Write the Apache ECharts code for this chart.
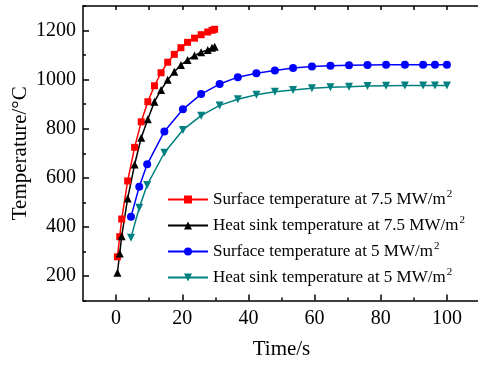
<!DOCTYPE html>
<html>
<head>
<meta charset="utf-8">
<script src="https://cdn.jsdelivr.net/npm/echarts@6/dist/echarts.min.js"></script>
<style>
  html, body { margin: 0; padding: 0; background: #fff; }
  #chart { width: 478px; height: 365px; }
</style>
</head>
<body>
<div id="chart"></div>
<script>
// data
const timeFast = [0.4, 1.1, 1.7, 3.5, 5.6, 7.6, 9.6, 11.6, 13.6, 15.6, 17.6, 19.6, 21.6, 23.7, 25.7, 27.7, 29.0, 29.8];
const surface75 = [278, 360, 432, 587, 724, 828, 910, 975, 1028, 1071, 1103, 1130, 1152, 1169, 1183, 1194, 1201, 1205];
const sink75 = [213, 292, 362, 516, 654, 763, 839, 910, 958, 999, 1032, 1060, 1080, 1098, 1112, 1121, 1130, 1134];

const timeSlow = [4.5, 7.0, 9.4, 14.6, 20.2, 25.7, 31.3, 36.8, 42.4, 48.0, 53.5, 59.2, 64.8, 70.4, 76.0, 81.6, 87.3, 92.8, 96.4, 100];
const surface5 = [441, 564, 655, 789, 879, 941, 982, 1010, 1026, 1037, 1047, 1053, 1057, 1059, 1060, 1061, 1061, 1061, 1061, 1061];
const sink5 = [356, 478, 571, 702, 795, 853, 895, 920, 938, 951, 958, 965, 969, 971, 974, 975, 976, 976, 976, 976];

const seriesNames = [
  "Surface temperature at 7.5 MW/m²",
  "Heat sink temperature at 7.5 MW/m²",
  "Surface temperature at 5 MW/m²",
  "Heat sink temperature at 5 MW/m²",
];

const xTicks = [0, 20, 40, 60, 80, 100];
const xMinorTicks = [10, 30, 50, 70, 90];
const yTicks = [200, 400, 600, 800, 1000, 1200];
const yMinorTicks = [100, 300, 500, 700, 900, 1100, 1300];

const font = "Liberation Serif";
const pairs = (xs, ys) => xs.map((x, i) => [x, ys[i]]);

const chart = echarts.init(document.getElementById("chart"));

// shared axis pieces
const xBase = { type: "value", min: -10, max: 110, splitLine: { show: false }, gridIndex: 0 };
const yBase = { type: "value", min: 100, max: 1300, splitLine: { show: false }, gridIndex: 0 };
const blackLine = { lineStyle: { color: "#000", width: 1.5 } };

const options = {
  animation: false,
  backgroundColor: "#fff",
  // plot box runs a little past the right edge of the picture
  grid: { left: 83, right: -2, top: 6, bottom: 64.5, outerBoundsMode: "none", containLabel: false },
  legend: {
    orient: "vertical",
    left: 162,
    top: 184,
    itemWidth: 40,
    itemHeight: 10,
    itemGap: 6,
    data: seriesNames,
    formatter: (name) => name.replace("²", "{sup|2}"),
    textStyle: {
      fontFamily: font,
      fontSize: 17,
      color: "#000",
      lineHeight: 19,
      rich: {
        sup: { fontFamily: font, fontSize: 11, color: "#000", verticalAlign: "bottom", padding: [0, 0, 9, 1] },
      },
    },
  },
  xAxis: [
    {
      ...xBase,
      position: "bottom",
      name: "Time/s",
      nameLocation: "middle",
      nameGap: 38,
      nameMoveOverlap: false,
      nameTextStyle: { fontFamily: font, fontSize: 21, color: "#000" },
      axisLine: { show: true, onZero: false, ...blackLine },
      axisTick: { show: true, inside: true, length: 6, customValues: xTicks, ...blackLine },
      axisLabel: { customValues: xTicks, formatter: (v) => String(v), fontFamily: font, fontSize: 20, color: "#000", margin: 8 },
    },
    {
      ...xBase,
      position: "bottom",
      axisLine: { show: false, onZero: false },
      axisTick: { show: true, inside: true, length: 3, customValues: xMinorTicks, ...blackLine },
      axisLabel: { show: false },
    },
    {
      ...xBase,
      position: "top",
      axisLine: { show: true, onZero: false, ...blackLine },
      axisTick: { show: true, inside: true, length: 4, customValues: xTicks.concat(xMinorTicks), ...blackLine },
      axisLabel: { show: false },
    },
  ],
  yAxis: [
    {
      ...yBase,
      position: "left",
      name: "Temperature/°C",
      nameLocation: "middle",
      nameGap: 52,
      nameMoveOverlap: false,
      nameTextStyle: { fontFamily: font, fontSize: 21, color: "#000" },
      axisLine: { show: true, onZero: false, ...blackLine },
      axisTick: { show: true, inside: true, length: 6, customValues: yTicks, ...blackLine },
      axisLabel: { customValues: yTicks, formatter: (v) => String(v), fontFamily: font, fontSize: 20, color: "#000", margin: 7 },
    },
    {
      ...yBase,
      position: "left",
      axisLine: { show: false, onZero: false },
      axisTick: { show: true, inside: true, length: 3, customValues: yMinorTicks, ...blackLine },
      axisLabel: { show: false },
    },
  ],
  series: [
    {
      name: seriesNames[0], type: "line", data: pairs(timeFast, surface75),
      symbol: "rect", symbolSize: 7, color: "#ff0000", lineStyle: { width: 1.5 },
    },
    {
      name: seriesNames[1], type: "line", data: pairs(timeFast, sink75),
      symbol: "triangle", symbolSize: 8, color: "#000000", lineStyle: { width: 1.5 },
    },
    {
      name: seriesNames[2], type: "line", data: pairs(timeSlow, surface5),
      symbol: "circle", symbolSize: 8, color: "#0000ff", lineStyle: { width: 1.5 },
    },
    {
      name: seriesNames[3], type: "line", data: pairs(timeSlow, sink5),
      symbol: "triangle", symbolRotate: 180, symbolSize: 8, color: "#008080", lineStyle: { width: 1.5 },
    },
  ],
};

chart.setOption(options);
</script>
</body>
</html>
